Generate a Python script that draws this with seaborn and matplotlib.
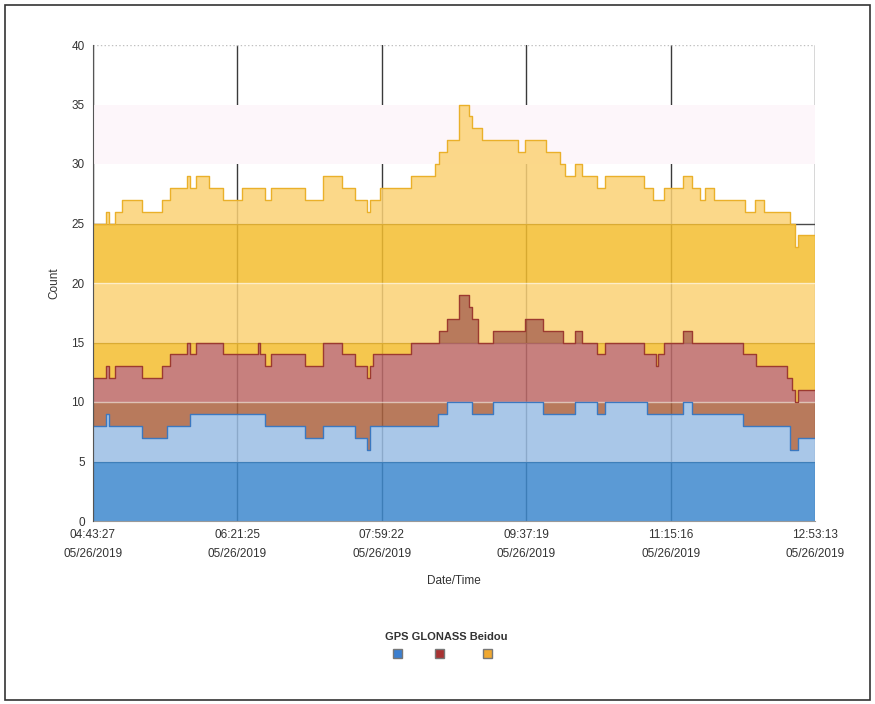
import matplotlib
matplotlib.use("Agg")
import matplotlib.dates as mdates
import matplotlib.patches as mpatches
import matplotlib.pyplot as plt
import numpy as np
import pandas as pd
import seaborn as sns

START = pd.Timestamp("2019-05-26 04:43:27")
END = pd.Timestamp("2019-05-26 12:53:13")
TICK_TIMES = ["04:43:27", "06:21:25", "07:59:22", "09:37:19", "11:15:16", "12:53:13"]
TICK_DATE = "05/26/2019"

# minutes after START at which a satellite count changes
minutes = [0, 9, 11, 15, 20, 33, 47, 50, 52, 64,
           66, 70, 79, 88, 101, 112, 113, 117, 121, 144,
           156, 169, 178, 186, 188, 190, 195, 216, 232, 234,
           235, 240, 248, 255, 257, 261, 264, 271, 288, 293,
           305, 307, 317, 319, 320, 327, 332, 342, 347, 374,
           376, 380, 382, 383, 387, 400, 406, 412, 415, 421,
           441, 442, 449, 450, 455, 471, 473, 474, 476, 478]
gps = [8, 9, 8, 8, 8, 7, 7, 8, 8, 8,
       9, 9, 9, 9, 9, 9, 9, 8, 8, 7,
       8, 8, 7, 6, 8, 8, 8, 8, 8, 9,
       9, 10, 10, 10, 9, 9, 9, 10, 10, 10,
       9, 9, 9, 9, 9, 10, 10, 9, 10, 10,
       9, 9, 9, 9, 9, 10, 9, 9, 9, 9,
       8, 8, 8, 8, 8, 8, 6, 6, 6, 7]
glonass = [4, 4, 4, 5, 5, 5, 6, 5, 6, 7,
           5, 6, 6, 5, 5, 6, 5, 5, 6, 6,
           7, 6, 6, 6, 5, 6, 6, 7, 7, 6,
           7, 7, 9, 8, 8, 6, 6, 6, 6, 7,
           7, 7, 7, 6, 6, 6, 5, 5, 5, 4,
           5, 5, 4, 5, 6, 6, 6, 6, 6, 6,
           6, 6, 6, 5, 5, 4, 6, 5, 4, 4]
beidou = [13, 13, 13, 13, 14, 14, 14, 14, 14, 14,
          14, 14, 13, 13, 14, 13, 14, 14, 14, 14,
          14, 14, 14, 14, 14, 13, 14, 14, 15, 15,
          15, 15, 16, 16, 16, 18, 17, 16, 15, 15,
          16, 15, 14, 15, 14, 14, 14, 14, 14, 14,
          14, 13, 14, 13, 13, 13, 13, 12, 13, 12,
          13, 12, 13, 14, 13, 14, 13, 14, 13, 13]

SERIES = ["GPS", "GLONASS", "Beidou"]
# (colour in the shaded bands 0-5/10-15/20-25, colour in the other bands)
FILL = {
    "GPS": ("#3e89ce", "#9abde4"),
    "GLONASS": ("#bd6a68", "#ac633f"),
    "Beidou": ("#f4bd2f", "#fbd275"),
}
EDGE = {"GPS": "#3b78c0", "GLONASS": "#9c3a30", "Beidou": "#eab02a"}
LEGEND = {"GPS": "#3b7fd0", "GLONASS": "#a83232", "Beidou": "#f0a830"}

sns.set_style("white")
plt.rcParams["font.family"] = ["Liberation Sans", "DejaVu Sans"]

df = pd.DataFrame({"minute": minutes, "GPS": gps, "GLONASS": glonass, "Beidou": beidou})
last = df.iloc[[-1]].copy()
last["minute"] = (END - START).total_seconds() / 60
df = pd.concat([df, last], ignore_index=True)
df["time"] = START + pd.to_timedelta(df["minute"], unit="min")

fig = plt.figure(figsize=(8.75, 7.04), dpi=100)
ax = fig.add_axes([93 / 875, 1 - 521 / 704, 722 / 875, 476 / 704])

ticks = pd.date_range(START, END, periods=6)

# ── background: grid + faint pink interlace band ──────────────────────────────
for t in ticks:
    ax.axvline(t, color="#3a3a3a", lw=1, zorder=1)
for v in (5, 15, 25):
    ax.axhline(v, color="#4a4a4a", lw=1, zorder=1)
ax.axhline(40, color="#c0c0c0", lw=1, ls=":", zorder=1)
ax.axhspan(30, 35, color="#fdf6fa", lw=0, zorder=1.5)

# ── stacked step areas ────────────────────────────────────────────────────────
base = np.zeros(len(df))
for name in SERIES:
    top = base + df[name].to_numpy()
    for lo in range(0, 40, 5):
        dark = lo in (0, 10, 20)
        ax.fill_between(df["time"], np.clip(base, lo, lo + 5), np.clip(top, lo, lo + 5),
                        step="post", color=FILL[name][0 if dark else 1],
                        alpha=0.85, lw=0, zorder=2)
    sns.lineplot(x=df["time"], y=top, drawstyle="steps-post", color=EDGE[name],
                 lw=1, ax=ax, legend=False, zorder=3)
    base = top

for v in (10, 20):
    ax.axhline(v, color="white", alpha=0.55, lw=1, zorder=2.5)

ax.set_xlim(START, END)
ax.set_ylim(0, 40)
ax.set_yticks(range(0, 41, 5))
ax.set_xticks(mdates.date2num(ticks.to_pydatetime()))
ax.set_xticklabels([f"{t}\n{TICK_DATE}" for t in TICK_TIMES])
for lbl in ax.get_xticklabels():
    lbl.set_linespacing(1.7)
ax.tick_params(axis="both", direction="out", length=4, width=0.8, colors="#555555",
               labelsize=8.5, labelcolor="#333333", pad=2)
ax.set_xlabel("Date/Time", fontsize=8.5, color="#333333", labelpad=11)
ax.set_ylabel("Count", fontsize=8.5, color="#333333", labelpad=8)
ax.grid(False)
for side in ("top", "right"):
    ax.spines[side].set_visible(False)
ax.spines["left"].set_color("#555555")
ax.spines["bottom"].set_color("#999999")
ax.spines["left"].set_zorder(4)

# ── legend: names above small swatches ────────────────────────────────────────
fig.text(446 / 875, 1 - 637 / 704, " ".join(SERIES), ha="center", va="center",
         fontsize=8, fontweight="bold", color="#333333")
for cx, name in zip((397, 439, 487), SERIES):
    fig.add_artist(mpatches.Rectangle(((cx - 4) / 875, 1 - 658 / 704), 9 / 875, 9 / 704,
                                      transform=fig.transFigure, facecolor=LEGEND[name],
                                      edgecolor="#777777", lw=1))

# page frame
fig.add_artist(mpatches.Rectangle((5 / 875, 4 / 704), 865 / 875, 695 / 704,
                                  transform=fig.transFigure, fill=False,
                                  edgecolor="#333333", lw=1.2))

fig.savefig("out.png", dpi=100)
plt.close(fig)
